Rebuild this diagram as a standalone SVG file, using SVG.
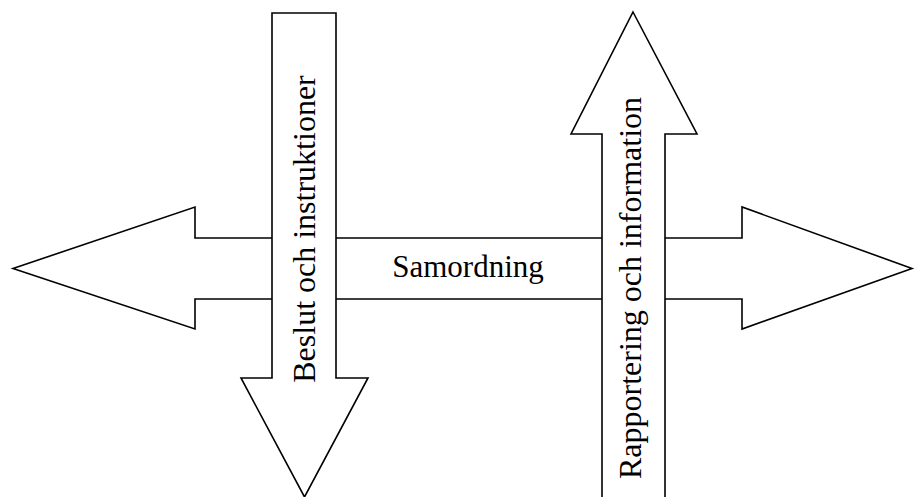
<svg xmlns="http://www.w3.org/2000/svg" width="915" height="497" viewBox="0 0 915 497">
<style>
.arrow{fill:#fff;stroke:#000;stroke-width:1.6;stroke-linejoin:miter}
.lbl{font-family:"Liberation Serif","Times New Roman",serif;font-size:32px;fill:#000}
</style>
<rect width="915" height="497" fill="#fff"/>
<g id="samordning">
<polygon class="arrow" points="13,268.5 195,207 195,238 742,238 742,207 912,268.5 742,329 742,299 195,299 195,329"/>
<text class="lbl" x="468" y="277" text-anchor="middle" style="font-size:31px">Samordning</text>
</g>
<g id="beslut">
<polygon class="arrow" points="272,13 336,13 336,378 368,378 304.5,497 241,378 272,378"/>
<text class="lbl" transform="translate(315,229) rotate(-90)" text-anchor="middle">Beslut och instruktioner</text>
</g>
<g id="rapportering">
<polygon class="arrow" points="633,12 697,134 665,134 665,510 602,510 602,134 571,134"/>
<text class="lbl" transform="translate(641,288) rotate(-90)" text-anchor="middle">Rapportering och information</text>
</g>
<g id="connectors"></g>
</svg>
